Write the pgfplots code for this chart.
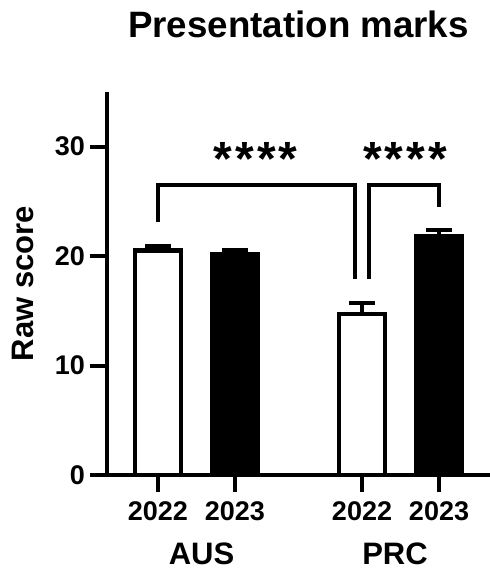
\documentclass[border=0pt]{standalone}
\usepackage{fontspec}
\setmainfont{Liberation Sans}
\usepackage{pgfplots}
\pgfplotsset{compat=1.18}
\begin{document}
\begin{tikzpicture}
\begin{axis}[
  scale only axis, width=383bp, height=383bp,
  xmin=0.338, xmax=5.312, ymin=0, ymax=35,
  axis x line=bottom, axis y line=left,
  axis line style={line width=4bp, -},
  tick align=outside, major tick length=17bp,
  tick style={line width=4bp, black},
  xtick={1,2,3.65,4.65}, xticklabels={2022,2023,2022,2023},
  ytick={0,10,20,30},
  /pgf/number format/assume math mode=true,
  ticklabel style={font=\fontsize{27bp}{27bp}\selectfont\bfseries},
  xticklabel style={anchor=north, inner sep=0pt, yshift=-9bp},
  yticklabel style={anchor=east, inner sep=0pt, xshift=-5bp},
  title={Presentation marks},
  title style={font=\fontsize{36.7bp}{40bp}\selectfont\bfseries, at={(axis description cs:0.5,1)}, anchor=base, yshift=49bp},
  ylabel={Raw score},
  ylabel style={font=\fontsize{31bp}{31bp}\selectfont\bfseries, at={(axis description cs:-0.193,0.5)}, anchor=base},
  clip=false,
]
\addplot[ybar, bar width=46bp, bar shift=0pt, fill=white, draw=black, line width=4.5bp,
  error bars/.cd, y dir=plus, y explicit,
  error bar style={line width=3.8bp, black},
  error mark options={rotate=90, mark size=13bp, line width=3.8bp, black}]
  coordinates {(1,20.5) +- (0,0.4) (3.65,14.7) +- (0,1.0)};
\addplot[ybar, bar width=46bp, bar shift=0pt, fill=black, draw=black, line width=4.5bp,
  error bars/.cd, y dir=plus, y explicit,
  error bar style={line width=3.8bp, black},
  error mark options={rotate=90, mark size=13bp, line width=3.8bp, black}]
  coordinates {(2,20.2) +- (0,0.35) (4.65,21.8) +- (0,0.6)};
\addplot[black, line width=3.8bp, mark=none] coordinates {(1,23.1) (1,26.5) (3.56,26.5) (3.56,17.9)};
\addplot[black, line width=3.8bp, mark=none] coordinates {(3.74,17.9) (3.74,26.5) (4.65,26.5) (4.65,24.5)};
\node[font=\fontsize{48bp}{48bp}\selectfont\bfseries, anchor=center, inner sep=0pt] at (axis cs:2.27,28.9) {*\kern3bp*\kern3bp*\kern3bp*};
\node[font=\fontsize{48bp}{48bp}\selectfont\bfseries, anchor=center, inner sep=0pt] at (axis cs:4.21,28.9) {*\kern3bp*\kern3bp*\kern3bp*};
\node[font=\fontsize{31bp}{32bp}\selectfont\bfseries, anchor=base, inner sep=0pt] at (axis cs:1.565,0) [yshift=-89bp] {AUS};
\node[font=\fontsize{31bp}{32bp}\selectfont\bfseries, anchor=base, inner sep=0pt] at (axis cs:4.078,0) [yshift=-89bp] {PRC};
\end{axis}
\pgfresetboundingbox
\useasboundingbox (-107bp,-97bp) rectangle (383bp,475bp);
\end{tikzpicture}
\end{document}
